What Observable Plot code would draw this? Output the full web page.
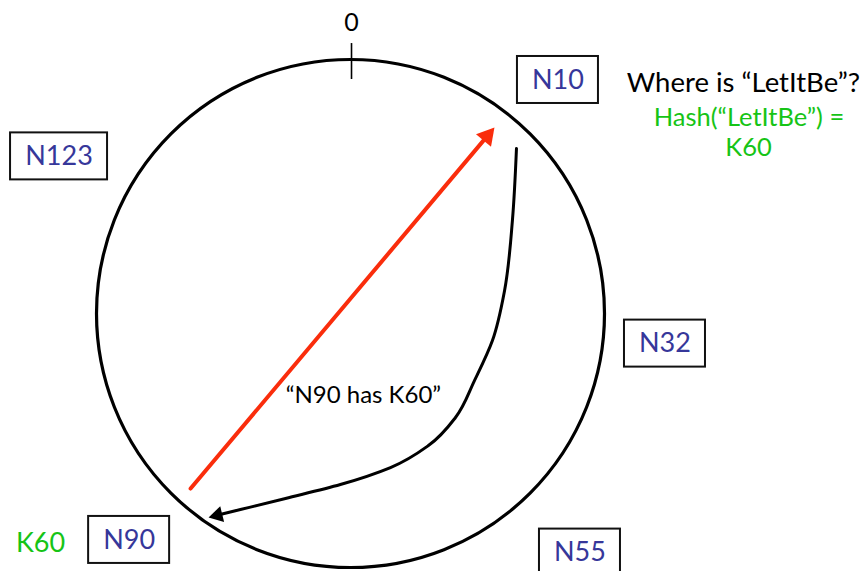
<!DOCTYPE html>
<html><head><meta charset="utf-8">
<script src="https://cdn.jsdelivr.net/npm/d3@7"></script>
<script src="https://cdn.jsdelivr.net/npm/@observablehq/plot@0.6"></script>
<style>html,body{margin:0;padding:0;background:#fff;}</style>
</head><body><div id="chart"></div>
<script>
// Ring coordinates: centre (0,0), ring radius 1, y pointing up.
const nodeLabels = ["N10", "N32", "N55", "N90", "N123"];
const nodeX = [0.820, 1.243, 0.907, -0.875, -1.152];
const nodeY = [0.923, -0.119, -0.945, -0.895, 0.621];

const zeroLabel = ["0"];
const zeroX = [0.004];
const zeroY = [1.150];
const zeroTickY = [1.067, 0.925];

const questionText = ["Where is “LetItBe”?"];
const questionX = [1.553];
const questionY = [0.909];

const hashLines = ["Hash(“LetItBe”) =", "K60"];
const hashX = [1.575, 1.573];
const hashY = [0.775, 0.656];

const keyLabel = ["K60"];
const keyX = [-1.225];
const keyY = [-0.909];

const replyLabel = ["“N90 has K60”"];
const replyLabelX = [0.051];
const replyLabelY = [-0.324];

// lookup message N90 -> N10 (red, straight)
const lookupX = [-0.632, 0.569];
const lookupY = [-0.692, 0.735];

// reply message N10 -> N90 (black, curved)
const replyX = [0.656, 0.640, 0.609, 0.561, 0.490, 0.415, 0.308, 0.158, -0.040, -0.257, -0.435, -0.561];
const replyY = [0.652, 0.368, 0.091, -0.107, -0.265, -0.411, -0.522, -0.609, -0.676, -0.731, -0.775, -0.806];

// ---------- build
const W = 867, H = 571;
const PX = 1 / 253; // one pixel in ring units
const FONT = "Lato, 'Open Sans', sans-serif";
const BLUE = "#36379a", GREEN = "#16c416", RED = "#fa2d0c";

const nodes = nodeLabels.map((label, i) => ({label, x: nodeX[i], y: nodeY[i], w: 33 + 16 * label.length, h: 47}));

function arrow(xs, ys, headLen) {
  const n = xs.length;
  const tx = xs[n - 1], ty = ys[n - 1];
  let dx = tx - xs[n - 2], dy = ty - ys[n - 2];
  const L = Math.hypot(dx, dy); dx /= L; dy /= L;
  const hl = headLen * PX;
  const pts = xs.map((x, i) => ({x, y: ys[i]}));
  pts[n - 1] = {x: tx - dx * hl * 0.7, y: ty - dy * hl * 0.7};
  const head = {x: tx - dx * hl * 2 / 3, y: ty - dy * hl * 2 / 3, rot: Math.atan2(dx, dy) * 180 / Math.PI};
  return {pts, head, r: headLen / Math.sqrt(Math.sqrt(3) * Math.PI)};
}
const red = arrow(lookupX, lookupY, 17);
const blk = arrow(replyX, replyY, 14);

const plot = Plot.plot({
  width: W, height: H, margin: 0,
  x: {domain: [-350 * PX, (W - 350) * PX], axis: null},
  y: {domain: [(313 - H) * PX, 313 * PX], axis: null},
  style: {fontFamily: FONT, background: "white"},
  marks: [
    // ring
    Plot.dot([{x: 0, y: 0}], {x: "x", y: "y", r: 254, stroke: "black", strokeWidth: 3.2, fill: "none"}),
    // 0 tick
    Plot.ruleX(zeroX, {x: d => d, y1: zeroTickY[0], y2: zeroTickY[1], stroke: "black", strokeWidth: 1.6}),
    Plot.text(zeroLabel, {x: zeroX, y: zeroY, text: d => d, fontSize: 25, fill: "black", fontFamily: FONT}),
    // node boxes
    Plot.rect(nodes, {x1: d => d.x - d.w / 2 * PX, x2: d => d.x + d.w / 2 * PX, y1: d => d.y - d.h / 2 * PX, y2: d => d.y + d.h / 2 * PX, fill: "white", stroke: "#111", strokeWidth: 2}),
    Plot.text(nodes, {x: "x", y: "y", text: "label", fontSize: 27, fill: BLUE, fontFamily: FONT}),
    // query text
    Plot.text(questionText, {x: questionX, y: questionY, text: d => d, fontSize: 27.5, fill: "black", fontFamily: FONT}),
    Plot.text(hashLines, {x: hashX, y: hashY, text: d => d, fontSize: 25.5, fill: GREEN, fontFamily: FONT}),
    // key label
    Plot.text(keyLabel, {x: keyX, y: keyY, text: d => d, fontSize: 27, fill: GREEN, fontFamily: FONT}),
    // reply label
    Plot.text(replyLabel, {x: replyLabelX, y: replyLabelY, text: d => d, fontSize: 24, fill: "black", fontFamily: FONT}),
    // red lookup arrow
    Plot.line(red.pts, {x: "x", y: "y", stroke: RED, strokeWidth: 4}),
    Plot.dot([red.head], {x: "x", y: "y", symbol: "triangle", r: red.r, rotate: "rot", fill: RED, stroke: "none"}),
    // black reply arrow
    Plot.line(blk.pts, {x: "x", y: "y", stroke: "black", strokeWidth: 3, curve: "monotone-y"}),
    Plot.dot([blk.head], {x: "x", y: "y", symbol: "triangle", r: blk.r, rotate: "rot", fill: "black", stroke: "none"})
  ]
});
document.getElementById("chart").append(plot);
</script>
</body></html>
